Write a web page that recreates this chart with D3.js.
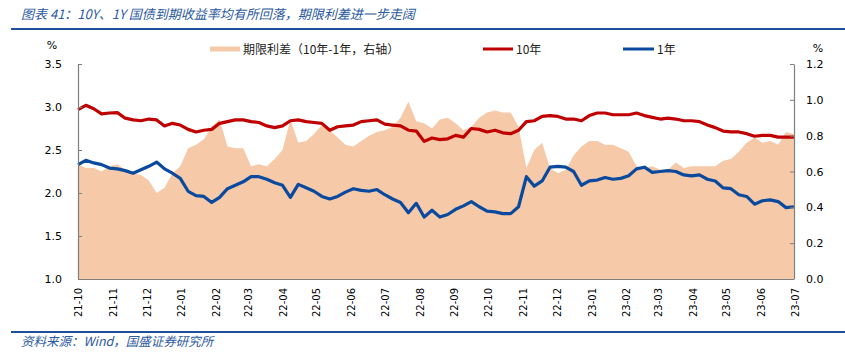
<!DOCTYPE html>
<html><head><meta charset="utf-8">
<script src="https://cdn.jsdelivr.net/npm/d3@7"></script>
<style>
html,body{margin:0;padding:0;background:#fff;}
svg{display:block;}
</style>
</head><body>
<svg id="c" width="845" height="357"></svg>
<script>
const titleText = "图表 41：10Y、1Y 国债到期收益率均有所回落，期限利差进一步走阔";
const sourceText = "资料来源：Wind，国盛证券研究所";
const legendNames = ["期限利差（10年-1年，右轴）", "10年", "1年"];
const leftTicks = [1.0, 1.5, 2.0, 2.5, 3.0, 3.5];
const rightTicks = [0.0, 0.2, 0.4, 0.6, 0.8, 1.0, 1.2];

const dates = [
"2021-10-01","2021-10-08","2021-10-15","2021-10-22","2021-10-29","2021-11-05","2021-11-12","2021-11-19","2021-11-26",
"2021-12-03","2021-12-10","2021-12-17","2021-12-24","2021-12-31",
"2022-01-07","2022-01-14","2022-01-21","2022-01-28","2022-02-04","2022-02-11","2022-02-18","2022-02-25",
"2022-03-04","2022-03-11","2022-03-18","2022-03-25","2022-04-01","2022-04-08","2022-04-15","2022-04-22","2022-04-29",
"2022-05-06","2022-05-13","2022-05-20","2022-05-27","2022-06-03","2022-06-10","2022-06-17","2022-06-24",
"2022-07-01","2022-07-08","2022-07-15","2022-07-22","2022-07-29","2022-08-05","2022-08-12","2022-08-19","2022-08-26",
"2022-09-02","2022-09-09","2022-09-16","2022-09-23","2022-09-30","2022-10-07","2022-10-14","2022-10-21","2022-10-28",
"2022-11-04","2022-11-11","2022-11-18","2022-11-25","2022-12-02","2022-12-09","2022-12-16","2022-12-23","2022-12-30",
"2023-01-06","2023-01-13","2023-01-20","2023-01-27","2023-02-03","2023-02-10","2023-02-17","2023-02-24",
"2023-03-03","2023-03-10","2023-03-17","2023-03-24","2023-03-31","2023-04-07","2023-04-14","2023-04-21","2023-04-28",
"2023-05-05","2023-05-12","2023-05-19","2023-05-26","2023-06-02","2023-06-09","2023-06-16","2023-06-23","2023-06-30"
];

const y10 = [
2.97,3.02,2.98,2.92,2.93,2.935,2.87,2.85,2.84,2.86,2.85,2.78,2.81,2.79,
2.74,2.71,2.73,2.74,2.81,2.83,2.85,2.85,2.83,2.82,2.78,2.76,2.78,2.84,2.85,2.83,2.82,
2.81,2.73,2.77,2.78,2.79,2.83,2.84,2.85,2.80,2.79,2.78,2.73,2.72,2.60,2.64,2.62,2.63,
2.67,2.65,2.75,2.74,2.71,2.73,2.70,2.69,2.73,2.83,2.84,2.89,2.90,2.89,2.86,2.86,2.84,2.90,
2.93,2.93,2.91,2.91,2.91,2.93,2.90,2.88,2.86,2.87,2.86,2.84,2.84,2.83,2.79,2.76,2.72,
2.71,2.71,2.69,2.66,2.67,2.67,2.65,2.65,2.65
];

const y1 = [
2.33,2.38,2.35,2.33,2.29,2.28,2.26,2.23,2.27,2.31,2.36,2.28,2.23,2.17,
2.02,1.97,1.96,1.89,1.95,2.05,2.09,2.13,2.19,2.19,2.16,2.12,2.09,1.95,2.10,2.06,2.02,
1.96,1.93,1.96,2.01,2.05,2.03,2.02,2.04,1.98,1.93,1.89,1.77,1.88,1.72,1.80,1.72,1.75,
1.81,1.85,1.90,1.84,1.79,1.78,1.76,1.76,1.84,2.19,2.08,2.14,2.30,2.31,2.30,2.25,2.09,2.14,
2.15,2.18,2.16,2.17,2.20,2.28,2.30,2.24,2.25,2.26,2.25,2.21,2.20,2.21,2.16,2.14,2.06,
2.05,1.98,1.96,1.87,1.91,1.92,1.90,1.83,1.84
];

const spread = [
0.64,0.62,0.62,0.60,0.63,0.64,0.61,0.59,0.58,0.55,0.48,0.51,0.59,0.63,
0.73,0.75,0.78,0.85,0.89,0.74,0.73,0.73,0.63,0.64,0.63,0.67,0.72,0.89,0.76,0.77,0.81,
0.86,0.83,0.79,0.75,0.74,0.77,0.80,0.82,0.83,0.85,0.90,0.99,0.88,0.87,0.84,0.89,0.90,
0.87,0.83,0.85,0.90,0.93,0.94,0.93,0.93,0.85,0.62,0.72,0.76,0.62,0.59,0.61,0.69,0.74,0.77,
0.77,0.75,0.75,0.73,0.71,0.63,0.62,0.63,0.61,0.61,0.65,0.62,0.63,0.63,0.63,0.63,0.66,
0.67,0.71,0.76,0.79,0.76,0.77,0.75,0.82,0.81
];

const parse = d3.timeParse("%Y-%m-%d");
const data = dates.map((d,i)=>({date:parse(d), a:y10[i], b:y1[i], s:spread[i]}));

const svg = d3.select("#c");
svg.append("rect").attr("width",845).attr("height",357).attr("fill","#fff");

const L = 78, R = 794, T = 64, B = 279;
const x = d3.scaleTime().domain([parse("2021-10-01"), parse("2023-07-01")]).range([L, 795]);
const yL = d3.scaleLinear().domain([1.0, 3.5]).range([B, T]);
const yR = d3.scaleLinear().domain([0, 1.2]).range([B, T]);

const blueDark = "#1F4E9A";
const textBlue = "#2C5AA0";
const cjk = "'Noto Sans CJK SC','Noto Sans',sans-serif";
const num = "'DejaVu Sans','Noto Sans',sans-serif";

// title
svg.append("text").attr("x",21).attr("y",19).text(titleText)
  .attr("fill",textBlue).attr("font-family",cjk).attr("font-size",13).attr("font-style","italic");
svg.append("line").attr("x1",11).attr("x2",845).attr("y1",29).attr("y2",29)
  .attr("stroke",blueDark).attr("stroke-width",2);
// footer
svg.append("line").attr("x1",11).attr("x2",845).attr("y1",332).attr("y2",332)
  .attr("stroke",blueDark).attr("stroke-width",2);
svg.append("text").attr("x",21).attr("y",346).text(sourceText)
  .attr("fill",textBlue).attr("font-family",cjk).attr("font-size",12.5).attr("font-style","italic");

// area
svg.append("path").datum(data)
  .attr("fill","#F6C9A9")
  .attr("d", d3.area().x(d=>x(d.date)).y0(yR(0)).y1(d=>yR(d.s)));

// lines
svg.append("path").datum(data).attr("fill","none").attr("stroke","#C00000").attr("stroke-width",3.2)
  .attr("stroke-linejoin","round")
  .attr("d", d3.line().x(d=>x(d.date)).y(d=>yL(d.a)));
svg.append("path").datum(data).attr("fill","none").attr("stroke","#0A4A9E").attr("stroke-width",3.2)
  .attr("stroke-linejoin","round")
  .attr("d", d3.line().x(d=>x(d.date)).y(d=>yL(d.b)));

// axes
const axisColor = "#7f7f7f";
const gl = svg.append("g").attr("transform",`translate(${L},0)`)
  .call(d3.axisLeft(yL).tickValues(leftTicks).tickFormat(d3.format(".1f")).tickSizeInner(-4).tickSizeOuter(0).tickPadding(16));
const gr = svg.append("g").attr("transform",`translate(${R},0)`)
  .call(d3.axisRight(yR).tickValues(rightTicks).tickFormat(d3.format(".1f")).tickSizeInner(-4).tickSizeOuter(0).tickPadding(12));
const gx = svg.append("g").attr("transform",`translate(0,${B})`)
  .call(d3.axisBottom(x).ticks(d3.timeMonth.every(1)).tickFormat(d3.timeFormat("%y-%m")).tickSize(0).tickSizeOuter(0));
gx.select(".domain").attr("d",`M${L},0.5H${R}`);
gx.selectAll("text").attr("transform","rotate(-90)").attr("x",-9).attr("y",0).attr("dy","0.35em")
  .style("text-anchor","end").attr("font-size",10);
[gl,gr,gx].forEach(g=>{
  g.selectAll(".domain").attr("stroke",axisColor).attr("stroke-width",1.2);
  g.selectAll(".tick line").attr("stroke",axisColor);
  g.selectAll("text").attr("fill","#000").attr("font-family",num);
});
gl.selectAll("text").attr("font-size",11);
gr.selectAll("text").attr("font-size",11);

// % labels
svg.append("text").attr("x",52).attr("y",49).attr("text-anchor","middle").text("%")
  .attr("font-family",num).attr("font-size",11);
svg.append("text").attr("x",818).attr("y",52).attr("text-anchor","middle").text("%")
  .attr("font-family",num).attr("font-size",11);

// legend
const lg = svg.append("g").attr("font-family",cjk).attr("font-size",12).attr("fill","#222");
lg.append("rect").attr("x",210).attr("y",46.5).attr("width",30).attr("height",5).attr("fill","#F6C9A9");
lg.append("text").attr("x",243).attr("y",53.5).text(legendNames[0]);
lg.append("line").attr("x1",483).attr("x2",513).attr("y1",49).attr("y2",49).attr("stroke","#C00000").attr("stroke-width",3);
lg.append("text").attr("x",516).attr("y",53.5).text(legendNames[1]);
lg.append("line").attr("x1",623).attr("x2",654).attr("y1",49).attr("y2",49).attr("stroke","#0A4A9E").attr("stroke-width",3);
lg.append("text").attr("x",657).attr("y",53.5).text(legendNames[2]);
</script>
</body></html>
